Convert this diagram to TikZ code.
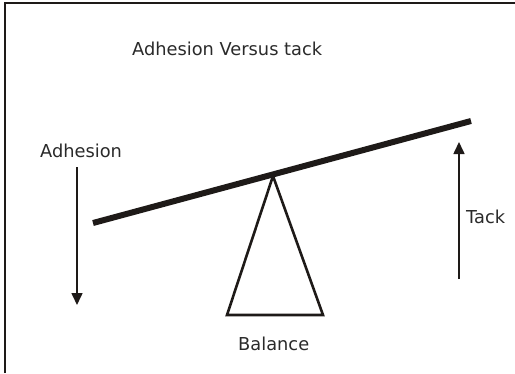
\documentclass[tikz,border=0pt]{standalone}
\usepackage{fontspec}
\setmainfont{DejaVu Sans}
\usetikzlibrary{arrows.meta}
\definecolor{ink}{HTML}{1E1A18}
\definecolor{txt}{HTML}{2A2A2A}
\tikzset{
  lbl/.style={anchor=base west, inner sep=0pt, text=txt, font=\fontsize{17.8}{20}\selectfont},
  frameline/.style={draw=ink, line width=1.6pt},
  beam/.style={draw=ink, line width=6pt},
  fulcrum/.style={draw=ink, line width=2.6pt, line join=miter},
  force/.style={draw=ink, line width=1.6pt, -{Triangle[length=12pt,width=11pt]}}
}
\begin{document}
\begin{tikzpicture}[x=1pt,y=-1pt]
\useasboundingbox (0,0) rectangle (515,373);
% frame (only left and top edges visible)
\coordinate (fbl) at (5,373);
\coordinate (ftl) at (5,3);
\coordinate (ftr) at (515,3);
\draw[frameline] (fbl) -- (ftl) -- (ftr);
% title
\node[lbl] (title) at (132,55) {Adhesion Versus tack};
% beam
\coordinate (bl) at (93,223);
\coordinate (br) at (471,121);
\draw[beam] (bl) -- (br);
% fulcrum triangle
\coordinate (apex) at (273,176);
\coordinate (basel) at (227,315);
\coordinate (baser) at (323,315);
\draw[fulcrum] (apex) -- (basel) -- (baser) -- cycle;
\node[lbl] (balance) at (238,350) {Balance};
% adhesion
\node[lbl] (adh) at (40,157) {Adhesion};
\coordinate (a1) at (77,167);
\coordinate (a2) at (77,305);
\draw[force] (a1) -- (a2);
% tack
\node[lbl] (tack) at (466,223) {Tack};
\coordinate (t1) at (459,279);
\coordinate (t2) at (459,142);
\draw[force] (t1) -- (t2);
\end{tikzpicture}
\end{document}
